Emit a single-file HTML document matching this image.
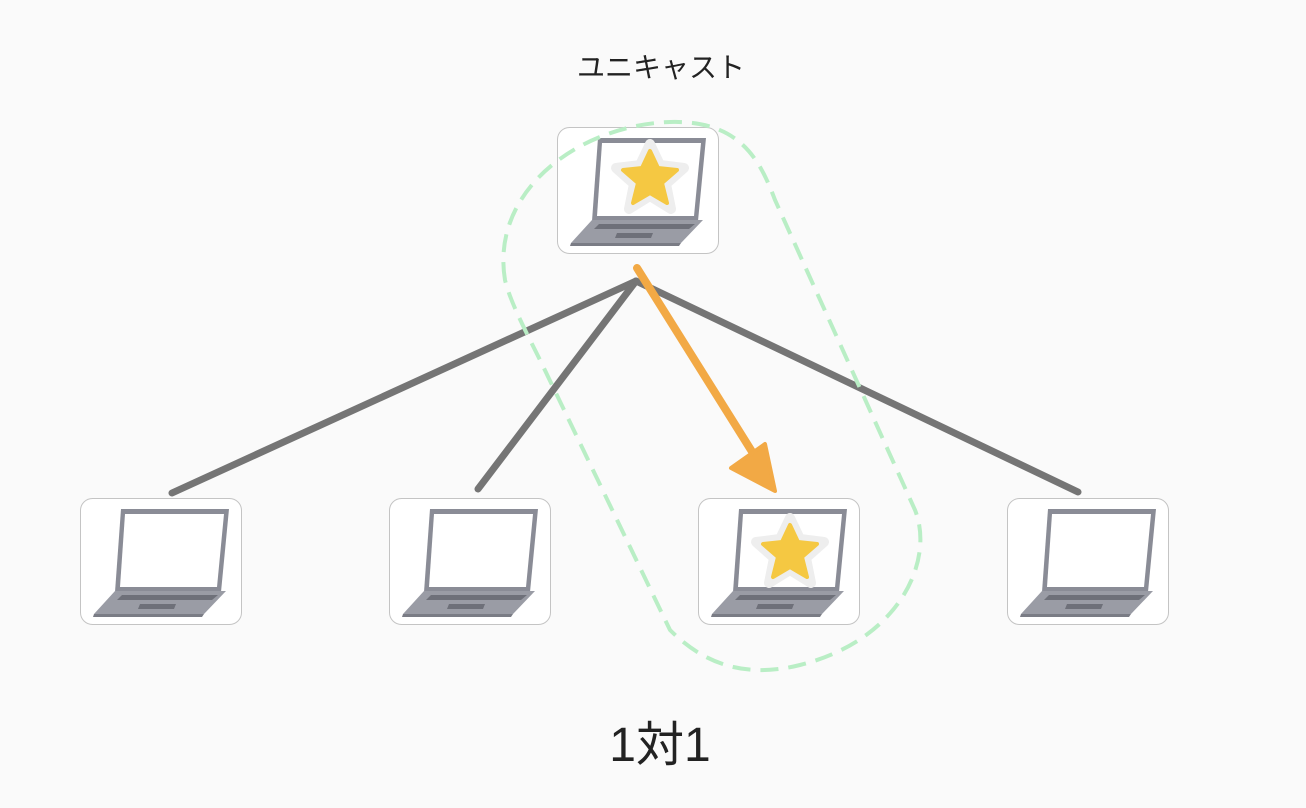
<!DOCTYPE html>
<html><head><meta charset="utf-8"><style>
html,body{margin:0;padding:0;background:#fafafa;}
svg{display:block;}
text{font-family:"Liberation Sans","Noto Sans CJK JP",sans-serif;fill:#222;}
</style></head><body>
<svg width="1306" height="808" viewBox="0 0 1306 808" xmlns="http://www.w3.org/2000/svg">
<defs>
<g id="lap">
<rect x="0.5" y="0.5" width="161" height="126" rx="12" fill="#fff" stroke="#c4c4c4"/>
<polygon points="41,11 149,11 141,94 35,94" fill="#8a8c96"/>
<polygon points="45,16 144,16 137,89 40,89" fill="#fff"/>
<polygon points="35,93 146,93 124,116 14,116" fill="#9a9ca5"/>
<polygon points="42,97 138,97 132,102 37,102" fill="#6e7079"/>
<polygon points="60,106 96,106 94,111 58,111" fill="#6e7079"/>
<polygon points="14,116 124,116 122,119 13,119" fill="#7a7c85"/>
</g>
<g id="star">
<polygon points="0,-34 10,-13 34,-10 16,6 21,31 0,18 -21,31 -16,6 -34,-10 -10,-13" fill="#fff" stroke="#eee" stroke-width="10" stroke-linejoin="round"/>
<polygon points="0,-27 8,-10 27,-8 12,5 17,25 0,15 -17,25 -12,5 -27,-8 -8,-10" fill="#f5c842" stroke="#f5c842" stroke-width="4" stroke-linejoin="round"/>
</g>
</defs>
<text x="661" y="77" font-size="28" text-anchor="middle">ユニキャスト</text>
<use href="#lap" x="557" y="127"/>
<use href="#star" x="650" y="178"/>
<use href="#lap" x="80" y="498"/>
<use href="#lap" x="389" y="498"/>
<use href="#lap" x="698" y="498"/>
<use href="#star" x="790" y="552"/>
<use href="#lap" x="1007" y="498"/>
<g stroke="#757575" stroke-width="7" stroke-linecap="round" fill="none">
<line x1="636" y1="281" x2="172" y2="493"/>
<line x1="636" y1="281" x2="478" y2="489"/>
<line x1="636" y1="281" x2="1078" y2="492"/>
</g>
<line x1="637" y1="268" x2="756" y2="458" stroke="#f2a945" stroke-width="8" stroke-linecap="round"/>
<polygon points="775,491 731,468 765,444" fill="#f2a945" stroke="#f2a945" stroke-width="4" stroke-linejoin="round"/>
<path d="M505,280 C490,190 580,125 670,122 C740,120 760,160 775,200 L915,510 C935,560 900,640 800,665 C740,680 700,660 670,630 L540,360 C520,320 510,300 505,280 Z" fill="none" stroke="#b9eec5" stroke-width="4" stroke-dasharray="18 10"/>
<text x="660" y="761" font-size="48" text-anchor="middle">1対1</text>
</svg>
</body></html>
